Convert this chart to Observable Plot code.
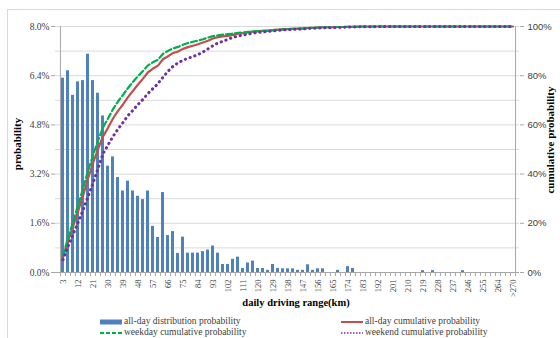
<!DOCTYPE html>
<html><head><meta charset="utf-8">
<script src="https://cdn.jsdelivr.net/npm/d3@7"></script>
<script src="https://cdn.jsdelivr.net/npm/@observablehq/plot@0.6"></script>
<style>body{margin:0;background:#fff;overflow:hidden}</style>
</head><body><div id="chart"></div>
<script>
const categories = ["3","6","9","12","15","18","21","24","27","30","33","36","39","42","45","48","51","54","57","60","63","66","69","72","75","78","81","84","87","90","93","96","99","102","105","108","111","114","117","120","123","126","129","132","135","138","141","144","147","150","153","156","159","162","165","168","171","174","177","180","183","186","189","192","195","198","201","204","207","210","213","216","219","222","225","228","231","234","237","240","243","246","249","252","255","258","261","264","267","270",">270"];
const xTickLabels = ["3","12","21","30","39","48","57","66","75","84","93","102","111","120","129","138","147","156","165","174","183","192","201","210","219","228","237","246","255","264",">270"];
const distribution = [6.32,6.56,5.76,6.20,6.24,7.10,6.24,5.83,5.09,3.46,
3.76,3.09,2.65,2.97,2.65,2.48,2.37,2.65,1.50,1.14,
2.60,1.20,1.33,0.62,1.15,0.63,0.63,0.63,0.68,0.73,
0.86,0.63,0.26,0.26,0.43,0.50,0.13,0.31,0.37,0.13,
0.13,0.07,0.26,0.13,0.12,0.12,0.12,0.07,0.07,0.25,
0.07,0.12,0.12,0,0,0.07,0,0.19,0.13,0,
0,0,0,0,0,0,0,0,0,0,
0,0,0.06,0,0.06,0,0,0,0,0,
0.06,0,0,0,0,0,0,0,0,0,
0];
const allDayCum = [6.3,12.9,18.6,24.8,31.1,38.2,44.4,50.2,55.3,58.8,
62.6,65.7,68.3,71.3,73.9,76.4,78.8,81.4,82.9,84.1,
86.7,87.9,89.2,89.8,90.9,91.6,92.2,92.8,93.5,94.2,
95.1,95.7,96.0,96.2,96.6,97.1,97.3,97.6,97.9,98.1,
98.2,98.3,98.5,98.7,98.8,98.9,99.0,99.1,99.2,99.4,
99.5,99.6,99.7,99.7,99.7,99.8,99.8,99.9,99.9,99.9,
100,100,100,100,100,100,100,100,100,100,
100,100,100,100,100,100,100,100,100,100,
100,100,100,100,100,100,100,100,100,100,
100];
const weekdayCum = [6.9,14.0,20.4,27.2,34.0,41.2,47.6,53.6,59.0,62.6,
66.4,69.5,72.2,75.0,77.5,79.8,81.9,84.2,85.5,86.5,
88.9,90.1,91.1,91.7,92.6,93.3,93.8,94.3,94.8,95.5,
96.1,96.4,96.7,96.9,97.1,97.4,97.6,97.8,98.0,98.1,
98.2,98.3,98.5,98.7,98.8,98.9,99.0,99.1,99.2,99.4,
99.5,99.6,99.7,99.7,99.7,99.8,99.8,99.9,99.9,100,
100,100,100,100,100,100,100,100,100,100,
100,100,100,100,100,100,100,100,100,100,
100,100,100,100,100,100,100,100,100,100,
100];
const weekendCum = [5.2,10.6,15.4,20.3,25.3,30.8,36.3,42.2,48.3,51.8,
55.3,58.3,61.0,63.8,66.0,68.3,70.4,72.8,74.8,76.8,
79.4,81.8,83.8,85.2,86.3,87.1,87.8,88.6,89.6,90.9,
92.2,93.3,94.0,94.8,95.6,96.1,96.5,96.9,97.3,97.6,
97.8,98.0,98.2,98.4,98.6,98.7,98.8,98.9,99.0,99.2,
99.3,99.4,99.5,99.5,99.6,99.6,99.7,99.8,99.8,99.9,
99.9,99.9,99.9,100,100,100,100,100,100,100,
100,100,100,100,100,100,100,100,100,100,
100,100,100,100,100,100,100,100,100,100,
100];
const leftTicks = [0,1.6,3.2,4.8,6.4,8.0];
const gridTicks = [0.8,1.6,2.4,3.2,4.0,4.8,5.6,6.4,7.2,8.0];

const rows = categories.map((c,i)=>({cat:c, dist:distribution[i], all:allDayCum[i], wd:weekdayCum[i], we:weekendCum[i]}));
const toLeft = v => v*8/100;
const W = 560, H = 338, mL = 55, mR = 41, mT = 26, mB = 66;
const step = (W - mL - mR) / categories.length;
const serif = "'Liberation Serif','Times New Roman',serif";
const sans = "'Liberation Sans',Arial,sans-serif";

const chart = Plot.plot({
  width: W, height: H, marginLeft: mL, marginRight: mR, marginTop: mT, marginBottom: mB,
  x: {type: "band", domain: categories, paddingInner: 0.42, paddingOuter: 0.21, label: null},
  y: {domain: [0, 8], label: null},
  style: {background: "#fff", fontFamily: serif, color: "#404040"},
  marks: [
    Plot.gridY(gridTicks, {stroke: "#d9d9d9", strokeOpacity: 1}),
    Plot.barY(rows, {x: "cat", y: "dist", fill: "#4f81bd"}),
    Plot.line(rows, {x: "cat", y: d => toLeft(d.all), stroke: "#c0504d", strokeWidth: 2.2}),
    Plot.line(rows, {x: "cat", y: d => toLeft(d.wd), stroke: "#00b050", strokeWidth: 2.2, strokeDasharray: "6,3"}),
    Plot.line(rows, {x: "cat", y: d => toLeft(d.we), stroke: "#7030a0", strokeWidth: 3, strokeDasharray: "0.3,4.7", strokeLinecap: "round"}),
    Plot.ruleY([0], {stroke: "#a6a6a6"}),
    Plot.ruleX([categories[0]], {dx: -step/2, y1: 0, y2: 8, stroke: "#a6a6a6"}),
    Plot.ruleX([categories[categories.length-1]], {dx: step/2, y1: 0, y2: 8, stroke: "#a6a6a6"}),
    Plot.ruleX(categories, {dx: -step/2, y1: 0, y2: -0.13, stroke: "#a6a6a6"}),
    Plot.ruleX([categories[categories.length-1]], {dx: step/2, y1: 0, y2: -0.13, stroke: "#a6a6a6"}),
    Plot.axisY({ticks: leftTicks, tickSize: 4, tickPadding: 2, tickFormat: d => d.toFixed(1) + "%", fontSize: 9.5, fontFamily: serif, stroke: "#a6a6a6", fill: "#404040"}),
    Plot.axisY({anchor: "right", ticks: leftTicks, tickSize: 4, tickPadding: 4, tickFormat: d => Math.round(d*12.5) + "%", fontSize: 9.5, fontFamily: sans, stroke: "#a6a6a6", fill: "#404040"}),
    Plot.axisX({ticks: xTickLabels, tickRotate: -90, tickSize: 0, tickPadding: 7, fontSize: 8.5, fontFamily: serif, fill: "#404040"})
  ]
});
document.getElementById("chart").appendChild(chart);

const svg = d3.select(chart);
svg.append("rect").attr("x", 7.5).attr("y", 9.5).attr("width", 600).attr("height", 400)
  .attr("fill", "none").attr("stroke", "#d9d9d9");
svg.append("text").attr("transform", "translate(18,144) rotate(-90)")
  .attr("text-anchor", "middle").attr("dominant-baseline", "middle")
  .attr("font-family", serif).attr("font-weight", "bold").attr("font-size", 11).attr("fill", "#000")
  .text("probability");
svg.append("text").attr("transform", "translate(551,140) rotate(-90)")
  .attr("text-anchor", "middle").attr("dominant-baseline", "middle")
  .attr("font-family", serif).attr("font-weight", "bold").attr("font-size", 11).attr("fill", "#000")
  .text("cumulative probability");
svg.append("text").attr("x", 296).attr("y", 306).attr("text-anchor", "middle")
  .attr("font-family", serif).attr("font-weight", "bold").attr("font-size", 10.5).attr("fill", "#000")
  .text("daily driving range(km)");

const legend = [
  {label: "all-day distribution probability", type: "bar", color: "#4f81bd", x: 100, y: 322},
  {label: "all-day cumulative probability", type: "line", color: "#c0504d", dash: null, w: 2, x: 341, y: 322},
  {label: "weekday cumulative probability", type: "line", color: "#00b050", dash: "4,2", w: 2, x: 100, y: 333},
  {label: "weekend cumulative probability", type: "line", color: "#7030a0", dash: "1.5,1.5", w: 1.5, x: 341, y: 333}
];
const lg = svg.append("g");
legend.forEach(e => {
  if (e.type === "bar") {
    lg.append("rect").attr("x", e.x).attr("y", e.y - 2.5).attr("width", 22).attr("height", 5).attr("fill", e.color);
  } else {
    lg.append("line").attr("x1", e.x).attr("x2", e.x + 22).attr("y1", e.y).attr("y2", e.y)
      .attr("stroke", e.color).attr("stroke-width", e.w).attr("stroke-dasharray", e.dash);
  }
  lg.append("text").attr("x", e.x + 24).attr("y", e.y).attr("dominant-baseline", "middle")
    .attr("text-anchor", "start")
    .attr("font-family", serif).attr("font-size", 9.5).attr("fill", "#404040").text(e.label);
});
</script>
</body></html>
